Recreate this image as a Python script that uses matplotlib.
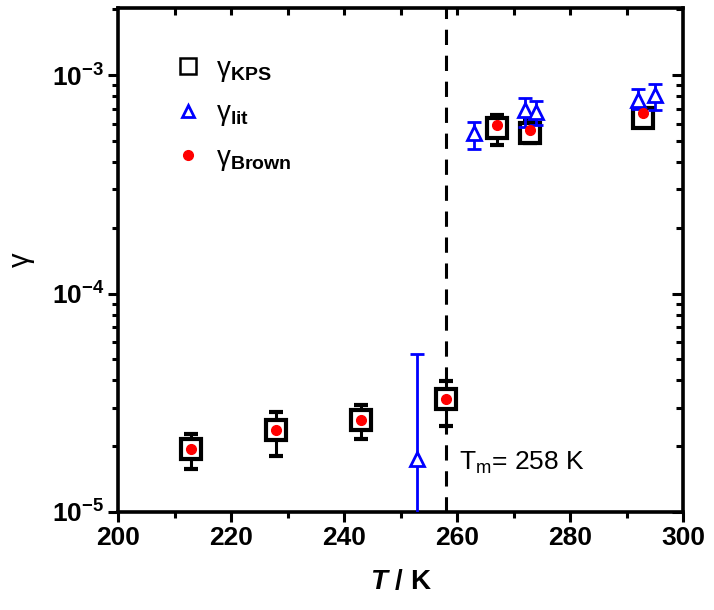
import matplotlib
matplotlib.use("Agg")
import matplotlib.pyplot as plt
from matplotlib.ticker import FixedLocator, LogLocator, FuncFormatter, NullFormatter
from matplotlib.lines import Line2D
import numpy as np

plt.rcParams['font.family'] = ['Liberation Sans', 'DejaVu Sans']
plt.rcParams['mathtext.fontset'] = 'custom'
plt.rcParams['mathtext.rm'] = 'Liberation Sans'
plt.rcParams['mathtext.bf'] = 'Liberation Sans:bold'
plt.rcParams['mathtext.it'] = 'Liberation Sans:italic'
plt.rcParams['mathtext.bfit'] = 'Liberation Sans:italic:bold'

# KPS measurements
T_kps = [213, 228, 243, 258, 267, 273, 293]
g_kps = [1.94e-5, 2.37e-5, 2.65e-5, 3.30e-5, 5.74e-4, 5.46e-4, 6.34e-4]
g_kps_lo = [1.58e-5, 1.80e-5, 2.16e-5, 2.48e-5, 4.79e-4, 4.87e-4, 5.85e-4]
g_kps_hi = [2.28e-5, 2.87e-5, 3.10e-5, 3.99e-5, 6.56e-4, 6.20e-4, 6.90e-4]

# literature values
T_lit = [253, 263, 272, 274, 292, 295]
g_lit = [1.74e-5, 5.45e-4, 6.90e-4, 6.75e-4, 7.70e-4, 8.10e-4]
g_lit_lo = [1e-7, 4.60e-4, 5.80e-4, 5.90e-4, 7.00e-4, 6.90e-4]
g_lit_hi = [5.28e-5, 6.11e-4, 7.90e-4, 7.60e-4, 8.60e-4, 9.10e-4]

# Brown model
T_brown = [213, 228, 243, 258, 267, 273, 293]
g_brown = [1.94e-5, 2.37e-5, 2.65e-5, 3.30e-5, 5.90e-4, 5.60e-4, 6.68e-4]

T_melt = 258

fig = plt.figure(figsize=(7.14, 6.10), dpi=100)
ax = fig.add_axes([0.1653, 0.1607, 0.7913, 0.8262])

ax.axvline(T_melt, color='black', lw=2.2, ls=(0, (5, 3.5)), zorder=1)

kerr = [np.array(g_kps) - np.array(g_kps_lo), np.array(g_kps_hi) - np.array(g_kps)]
ax.errorbar(T_kps, g_kps, yerr=kerr, fmt='s', color='black', ms=14, mfc='white',
            mec='black', mew=3, elinewidth=2.2, capsize=5, capthick=2.2, zorder=3)

lerr = [np.array(g_lit) - np.array(g_lit_lo), np.array(g_lit_hi) - np.array(g_lit)]
ax.errorbar(T_lit, g_lit, yerr=lerr, fmt='^', color='blue', ms=10, mfc='white',
            mec='blue', mew=2, elinewidth=2, capsize=5, capthick=2.2, zorder=4)

ax.plot(T_brown, g_brown, 'o', color='red', ms=7, mec='red', zorder=5)

ax.set_yscale('log')
ax.set_xlim(200, 300)
ax.set_ylim(1e-5, 2.03e-3)

ax.xaxis.set_major_locator(FixedLocator([200, 220, 240, 260, 280, 300]))
ax.xaxis.set_minor_locator(FixedLocator([210, 230, 250, 270, 290]))
ax.yaxis.set_major_locator(LogLocator(base=10, numticks=10))
ax.yaxis.set_minor_locator(LogLocator(base=10, subs=np.arange(2, 10), numticks=20))
ax.yaxis.set_minor_formatter(NullFormatter())


def yfmt(v, pos):
    e = int(round(np.log10(v)))
    return r'$\mathbf{10^{%d}}$' % e


ax.yaxis.set_major_formatter(FuncFormatter(yfmt))

for s in ax.spines.values():
    s.set_linewidth(2.6)

ax.tick_params(axis='both', which='major', direction='out', length=7, width=2.2,
               labelsize=19, pad=3)
ax.tick_params(axis='both', which='minor', direction='out', length=4, width=2.2)
for lab in ax.get_xticklabels():
    lab.set_fontweight('bold')

# mirrored inward ticks on top/right
axt = ax.secondary_xaxis('top')
axt.xaxis.set_major_locator(FixedLocator([210, 220, 230, 240, 250, 260, 270, 280, 290]))
axt.tick_params(direction='in', length=5, width=2.2, labeltop=False)
axr = ax.secondary_yaxis('right')
axr.yaxis.set_major_locator(LogLocator(base=10, numticks=10))
axr.yaxis.set_minor_locator(LogLocator(base=10, subs=np.arange(2, 10), numticks=20))
axr.tick_params(which='major', direction='in', length=8, width=2.2, labelright=False)
axr.tick_params(which='minor', direction='in', length=5, width=2.2, labelright=False)
axr.yaxis.set_minor_formatter(NullFormatter())

ax.set_xlabel(r'$\mathbfit{T}$ / K', fontsize=20, fontweight='bold', labelpad=14)
ax.set_ylabel('γ', fontsize=21, labelpad=12)

ax.text(260.3, 1.67e-5, r'T$_\mathrm{m}$= 258 K', fontsize=19, va='center', ha='left')

handles = [
    Line2D([], [], ls='none', marker='s', ms=12, mfc='white', mec='black', mew=1.8),
    Line2D([], [], ls='none', marker='^', ms=9, mfc='white', mec='blue', mew=2),
    Line2D([], [], ls='none', marker='o', ms=7, color='red'),
]
labels = [r'γ$_\mathbf{KPS}$', r'γ$_\mathbf{lit}$', r'γ$_\mathbf{Brown}$']
ax.legend(handles, labels, loc='upper left', bbox_to_anchor=(0.05, 0.955), frameon=False,
          fontsize=20, labelspacing=0.6, handletextpad=0.4, handlelength=1.2)

fig.savefig('out.png', dpi=100)
